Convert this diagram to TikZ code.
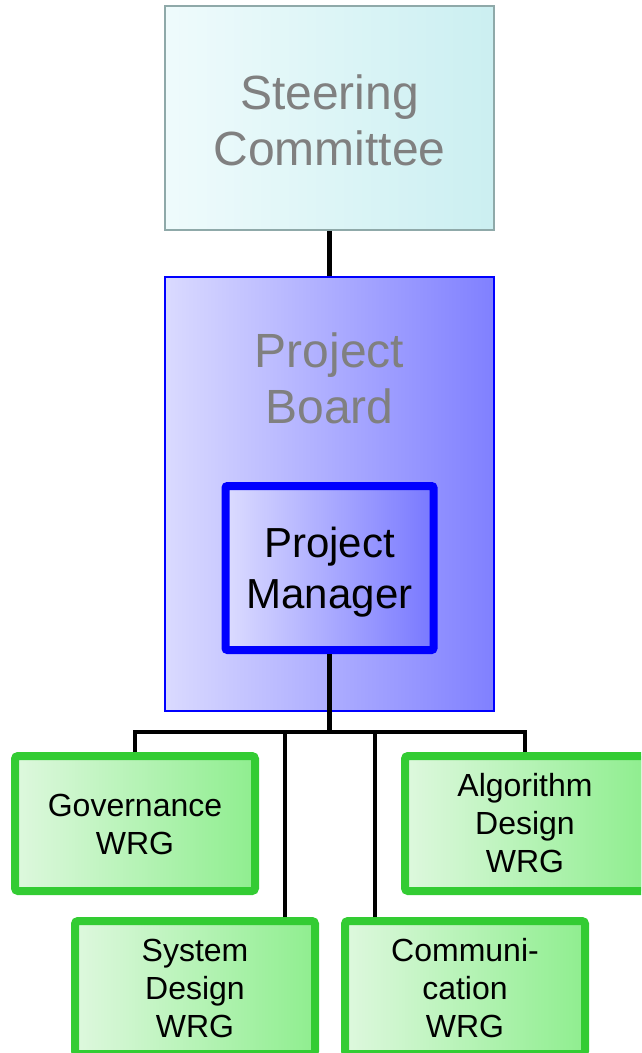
\documentclass[tikz,border=0pt]{standalone}
\usepackage{fontspec}
\setmainfont{Liberation Sans}
\definecolor{scborder}{HTML}{8FA9A9}
\definecolor{scleft}{HTML}{EFFBFC}
\definecolor{scright}{HTML}{CBEFF1}
\definecolor{pbleft}{HTML}{DADAFF}
\definecolor{pbright}{HTML}{8080FF}
\definecolor{pmleft}{HTML}{DCDCFF}
\definecolor{pmright}{HTML}{7878FF}
\definecolor{wgborder}{HTML}{33CC33}
\definecolor{wgleft}{HTML}{DEF8DE}
\definecolor{wgright}{HTML}{8FEE8F}
\definecolor{graytext}{HTML}{808080}
\tikzset{
  scbox/.style={draw=scborder, line width=1.5pt, left color=scleft, right color=scright,
    minimum width=329pt, minimum height=224pt, inner sep=0pt},
  pbbox/.style={draw=blue, line width=2pt, left color=pbleft, right color=pbright,
    minimum width=329pt, minimum height=434pt, inner sep=0pt},
  pmbox/.style={draw=blue, line width=8pt, rounded corners=2pt, left color=pmleft, right color=pmright,
    minimum width=208pt, minimum height=164pt, inner sep=0pt},
  wgbox/.style={draw=wgborder, line width=8pt, rounded corners=3pt, left color=wgleft, right color=wgright,
    minimum width=240pt, inner sep=0pt},
  bigtext/.style={align=center, inner sep=0pt, text=graytext, font=\fontsize{48}{56}\selectfont},
  pmtext/.style={align=center, inner sep=0pt, text=black, font=\fontsize{42}{51}\selectfont},
  wgtext/.style={align=center, inner sep=0pt, text=black, font=\fontsize{32}{38}\selectfont},
  conn/.style={draw=black, line width=4.5pt, line join=miter}
}
\begin{document}
\begin{tikzpicture}[x=1pt,y=-1pt]
\useasboundingbox (0,0) rectangle (641,1053);
\clip (0,0) rectangle (641,1053);
% boxes
\node[scbox] (sc) at (329.5,118) {};
\node[bigtext] (sct) at (329.5,120) {Steering\\Committee};
\node[pbbox] (pb) at (329.5,494) {};
\node[bigtext] (pbt) at (329.5,378.5) {Project\\Board};
\node[pmbox] (pm) at (329.5,568) {};
\node[pmtext] (pmt) at (329.5,572.5) {Project\\Manager};
\node[wgbox, minimum height=135pt] (gov) at (135,823.5) {};
\node[wgtext] (govt) at (135,824) {Governance\\WRG};
\node[wgbox, minimum height=135pt] (alg) at (525,823.5) {};
\node[wgtext] (algt) at (525,823.5) {Algorithm\\Design\\WRG};
\node[wgbox, minimum height=133pt] (sys) at (195,987.5) {};
\node[wgtext] (syst) at (195,988.5) {System\\Design\\WRG};
\node[wgbox, minimum height=133pt] (com) at (465,987.5) {};
\node[wgtext] (comt) at (465,988.5) {Communi-\\cation\\WRG};
% connectors
\coordinate (bus) at (329.5,732);
\coordinate (sysin) at ([xshift=90pt]sys.north);
\coordinate (comin) at ([xshift=-90pt]com.north);
\draw[conn] (sc.south) -- (pb.north);
\draw[conn] (pm.south) -- (bus);
\draw[conn] (gov.north) |- (bus) -| (alg.north);
\draw[conn] (sysin) -- (sysin |- bus);
\draw[conn] (comin) -- (comin |- bus);
\end{tikzpicture}
\end{document}
